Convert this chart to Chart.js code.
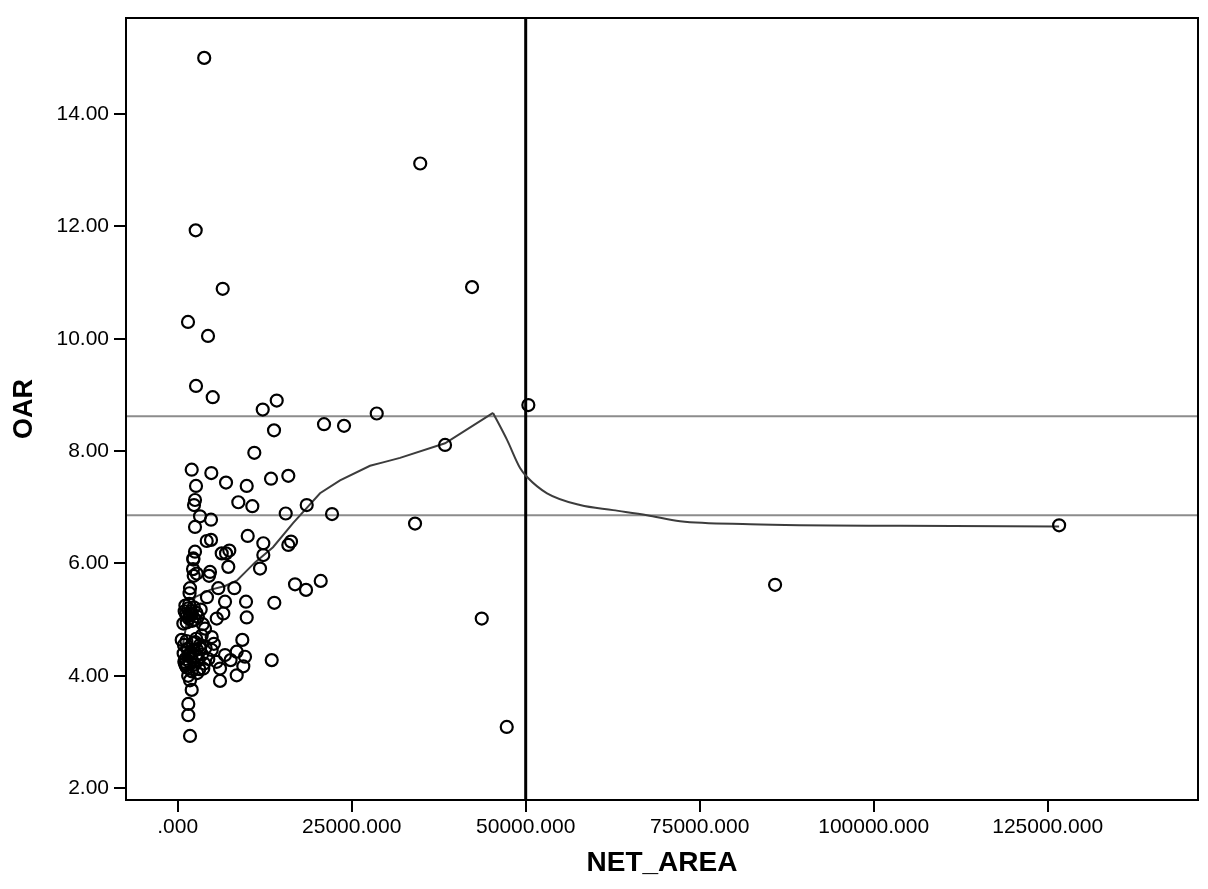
<!DOCTYPE html>
<html>
<head>
<meta charset="utf-8">
<title>OAR by NET_AREA</title>
<script src="https://cdn.jsdelivr.net/npm/chart.js@4.4.1/dist/chart.umd.min.js"></script>
<style>
  html, body { margin: 0; padding: 0; background: #ffffff; }
  #wrap { width: 1208px; height: 889px; position: relative; }
</style>
</head>
<body>
<div id="wrap"><canvas id="c" width="1208" height="889"></canvas></div>
<script>
// Observations: net area and the matching OAR value
const netArea = [
  3808, 2586, 6466, 1480, 4354, 34846, 42291, 2630, 5030, 14226,
  12215, 28596, 21023, 23897, 13838, 11007, 2012, 4828, 6941, 9915,
  13407, 15893, 2630, 2486, 2342, 8708, 10720, 18537, 15520, 22173,
  3204, 4785, 2486, 10059, 12301, 16281, 15893, 4167, 4785, 2486,
  2242, 7415, 6941, 12301, 7271, 11826, 2730, 4642, 16856, 18437,
  20549, 50381, 38411, 34100, 43685, 47277, 85832, 126646,
  2300, 4500, 1767, 5834, 8133, 6797, 9815, 13881, 1767, 805,
  6553, 5604, 9915, 575, 3923, 4886, 9283, 3204, 4886, 6797,
  8478, 9671, 13508, 1049, 3679, 6078, 9427, 8478, 6078, 1767,
  2012, 1523, 1523, 1767,
  1100, 1500, 1900, 1200, 2300, 2700, 1600, 2100, 1300, 2900, 3300,
  900, 1400, 1800, 2200, 2600, 1100, 1700, 2400, 3000, 3500,
  4000, 1300, 2000, 2800, 1500, 3800, 4400, 3200, 6323, 2242,
  1000, 1350, 1650, 2050, 2450, 850, 1250, 1950, 2750, 3100,
  1150, 1550, 2150, 2650, 3450, 5200, 5600, 3600, 4200, 7600,
  1700, 2200, 950, 2500
];
const oar = [
  15.00, 11.93, 10.89, 10.30, 10.05, 13.12, 10.92, 9.16, 8.96, 8.90,
  8.74, 8.67, 8.48, 8.45, 8.37, 7.97, 7.67, 7.61, 7.44, 7.38,
  7.51, 7.56, 7.38, 7.13, 7.04, 7.09, 7.02, 7.04, 6.89, 6.88,
  6.84, 6.78, 6.65, 6.49, 6.36, 6.39, 6.33, 6.40, 6.42, 6.21,
  6.09, 6.23, 6.18, 6.15, 5.94, 5.91, 5.82, 5.85, 5.63, 5.53,
  5.69, 8.82, 8.11, 6.71, 5.02, 3.09, 5.62, 6.68,
  5.78, 5.78, 5.56, 5.56, 5.56, 5.32, 5.32, 5.30, 5.08, 4.93,
  5.11, 5.02, 5.04, 4.64, 4.84, 4.69, 4.64, 4.49, 4.46, 4.37,
  4.43, 4.34, 4.28, 4.22, 4.13, 4.13, 4.17, 4.01, 3.91, 3.92,
  3.75, 3.50, 3.30, 2.93,
  5.25, 5.20, 5.15, 5.10, 5.22, 5.12, 5.02, 4.98, 4.95, 5.05, 5.18,
  4.55, 4.48, 4.40, 4.45, 4.35, 4.30, 4.25, 4.20, 4.28, 4.38,
  4.50, 4.15, 4.08, 4.05, 4.00, 4.22, 4.30, 4.55, 6.18, 6.07,
  5.15, 5.06, 5.28, 5.10, 5.00, 4.40, 4.62, 4.33, 4.47, 4.12,
  4.18, 4.36, 4.58, 4.66, 4.72, 4.57, 4.25, 4.92, 5.40, 4.28,
  5.47, 5.90, 4.25, 4.60
];

// Smoothed (loess) fit: rising part up to the peak ...
const fitRiseArea = [618, 1480, 2486, 4642, 6797, 8521, 11107, 13694, 16568, 20448,
  23322, 27633, 29500, 31944, 38411, 45309];
const fitRiseOar = [4.46, 5.08, 5.40, 5.53, 5.60, 5.70, 6.02, 6.29, 6.72, 7.25,
  7.48, 7.74, 7.80, 7.88, 8.14, 8.68];
// ... and the decay after the peak
const fitFallArea = [45309, 47320, 49189, 50195, 53069, 57811, 62554, 67440, 72182,
  82241, 103795, 126646];
const fitFallOar = [8.68, 8.20, 7.70, 7.54, 7.25, 7.04, 6.95, 6.86, 6.75,
  6.70, 6.67, 6.66];

// Reference lines
const oarRefLines = [8.62, 6.86];
const areaRefLines = [50000];

// Axis ranges and ticks
const xRange = [-7430, 146600];
const yRange = [1.79, 15.71];
const xTicks = [0, 25000, 50000, 75000, 100000, 125000];
const yTicks = [2, 4, 6, 8, 10, 12, 14];

const toXY = (xs, ys) => xs.map((x, i) => ({ x: x, y: ys[i] }));

const datasets = [];
oarRefLines.forEach(v => datasets.push({
  type: 'line',
  data: [{ x: xRange[0], y: v }, { x: xRange[1], y: v }],
  borderColor: '#8c8c8c', borderWidth: 2, pointRadius: 0, fill: false, order: 3
}));
areaRefLines.forEach(v => datasets.push({
  type: 'line',
  data: [{ x: v, y: yRange[0] }, { x: v, y: yRange[1] }],
  borderColor: '#000000', borderWidth: 3, pointRadius: 0, fill: false, order: 2
}));
datasets.push({
  type: 'line',
  data: toXY(fitRiseArea, fitRiseOar),
  borderColor: '#3c3c3c', borderWidth: 2, pointRadius: 0, fill: false,
  tension: 0, order: 1
});
datasets.push({
  type: 'line',
  data: toXY(fitFallArea, fitFallOar),
  borderColor: '#3c3c3c', borderWidth: 2, pointRadius: 0, fill: false,
  cubicInterpolationMode: 'monotone', order: 1
});
datasets.push({
  type: 'scatter',
  data: toXY(netArea, oar),
  pointStyle: 'circle', pointRadius: 6, pointBorderWidth: 2.2,
  borderColor: '#000000', backgroundColor: 'rgba(0,0,0,0)', order: 0
});

const whiteBackground = {
  id: 'whiteBackground',
  beforeDraw(chart) {
    const ctx = chart.ctx;
    ctx.save();
    ctx.fillStyle = '#ffffff';
    ctx.fillRect(0, 0, chart.width, chart.height);
    ctx.restore();
  }
};
const plotFrame = {
  id: 'plotFrame',
  afterDraw(chart) {
    const a = chart.chartArea, ctx = chart.ctx;
    ctx.save();
    ctx.strokeStyle = '#000000';
    ctx.lineWidth = 2;
    ctx.strokeRect(a.left, a.top, a.right - a.left, a.bottom - a.top);
    ctx.restore();
  }
};

const labelFont = '"Liberation Sans", Arial, sans-serif';

new Chart(document.getElementById('c'), {
  data: { datasets: datasets },
  plugins: [whiteBackground, plotFrame],
  options: {
    responsive: false,
    animation: false,
    events: [],
    layout: { padding: { left: 0, top: 18, right: 10, bottom: 0 } },
    plugins: { legend: { display: false }, tooltip: { enabled: false } },
    scales: {
      x: {
        type: 'linear',
        min: xRange[0], max: xRange[1],
        afterBuildTicks(scale) { scale.ticks = xTicks.map(v => ({ value: v })); },
        afterFit(scale) { scale.height = 89; },
        ticks: {
          color: '#000000', padding: 3, autoSkip: false, maxRotation: 0,
          font: { family: labelFont, size: 21 },
          callback: v => (v === 0 ? '.000' : Number(v).toFixed(3))
        },
        grid: { drawOnChartArea: false, color: '#000000', lineWidth: 2, tickLength: 12 },
        border: { display: true, color: '#000000', width: 2 },
        title: {
          display: true, text: 'NET_AREA', color: '#000000',
          font: { family: labelFont, size: 28, weight: 'bold' },
          padding: { top: 0, bottom: 9 }
        }
      },
      y: {
        type: 'linear',
        min: yRange[0], max: yRange[1],
        afterBuildTicks(scale) { scale.ticks = yTicks.map(v => ({ value: v })); },
        afterFit(scale) { scale.width = 126; },
        ticks: {
          color: '#000000', padding: 5,
          font: { family: labelFont, size: 21 },
          callback: v => Number(v).toFixed(2)
        },
        grid: { drawOnChartArea: false, color: '#000000', lineWidth: 2, tickLength: 12 },
        border: { display: true, color: '#000000', width: 2 },
        title: {
          display: true, text: 'OAR', color: '#000000',
          font: { family: labelFont, size: 27, weight: 'bold' },
          padding: { top: 8, bottom: 0 }
        }
      }
    }
  }
});
</script>
</body>
</html>
